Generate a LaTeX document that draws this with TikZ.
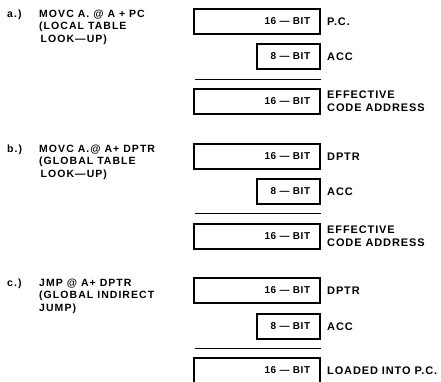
\documentclass[tikz,border=0pt]{standalone}
\usepackage{fontspec}
\setmainfont{Liberation Sans}[LetterSpace=6]
\newfontfamily\modefont{Liberation Sans}[LetterSpace=10]
\newfontfamily\namefont{Liberation Sans}[LetterSpace=8]
\usepackage{tikz}
\usetikzlibrary{positioning}
\tikzset{
  regLong/.style={rectangle, draw, line width=1.6pt, minimum height=25pt,
                  text width=106pt, align=right, inner xsep=10pt, inner ysep=0pt,
                  font=\bfseries\fontsize{10}{12}\selectfont},
  regShort/.style={regLong, text width=43pt},
  regName/.style={align=left, inner sep=0pt,
                  font=\namefont\bfseries\fontsize{11}{13}\selectfont},
  modeText/.style={align=left, anchor=north west, inner sep=0pt,
                   font=\modefont\bfseries\fontsize{10.5}{12.5}\selectfont},
  sumLine/.style={line width=0.9pt},
}
\begin{document}
\begin{tikzpicture}[x=1pt, y=-1pt]
  \useasboundingbox (0,0) rectangle (441,381);

  % a.) local table look-up
  \node[modeText] (tagA) at (7,9.5) {a.)};
  \node[modeText] (insA) at (39,9.5) {MOVC A. @ A + PC\\(LOCAL TABLE\\\hspace{1.5pt}LOOK—UP)};
  \node[regLong, anchor=north east] (pcA) at (321,8) {16 — BIT};
  \node[regShort, anchor=north east] (accA) at (321,43) {8 — BIT};
  \coordinate (lineAl) at (195,79);
  \coordinate (lineAr) at (321,79);
  \draw[sumLine] (lineAl) -- (lineAr);
  \node[regLong, anchor=north east] (effA) at (321,88) {16 — BIT};
  \node[regName, right=6pt of pcA] {P.C.};
  \node[regName, right=6pt of accA] {ACC};
  \node[regName, right=6pt of effA] {EFFECTIVE\\CODE ADDRESS};

  % b.) global table look-up
  \node[modeText] (tagB) at (7,144.5) {b.)};
  \node[modeText] (insB) at (39,144.5) {MOVC A.@ A+ DPTR\\(GLOBAL TABLE\\\hspace{1.5pt}LOOK—UP)};
  \node[regLong, anchor=north east] (dpB) at (321,143) {16 — BIT};
  \node[regShort, anchor=north east] (accB) at (321,178) {8 — BIT};
  \coordinate (lineBl) at (195,213);
  \coordinate (lineBr) at (321,213);
  \draw[sumLine] (lineBl) -- (lineBr);
  \node[regLong, anchor=north east] (effB) at (321,223) {16 — BIT};
  \node[regName, right=6pt of dpB] {DPTR};
  \node[regName, right=6pt of accB] {ACC};
  \node[regName, right=6pt of effB] {EFFECTIVE\\CODE ADDRESS};

  % c.) global indirect jump
  \node[modeText] (tagC) at (7,278.5) {c.)};
  \node[modeText] (insC) at (39,278.5) {JMP @ A+ DPTR\\(GLOBAL INDIRECT\\JUMP)};
  \node[regLong, anchor=north east] (dpC) at (321,277) {16 — BIT};
  \node[regShort, anchor=north east] (accC) at (321,313) {8 — BIT};
  \coordinate (lineCl) at (195,348);
  \coordinate (lineCr) at (321,348);
  \draw[sumLine] (lineCl) -- (lineCr);
  \node[regLong, anchor=north east] (pcC) at (321,357) {16 — BIT};
  \node[regName, right=6pt of dpC] {DPTR};
  \node[regName, right=6pt of accC] {ACC};
  \node[regName, right=6pt of pcC] {LOADED INTO P.C.};
\end{tikzpicture}
\end{document}
